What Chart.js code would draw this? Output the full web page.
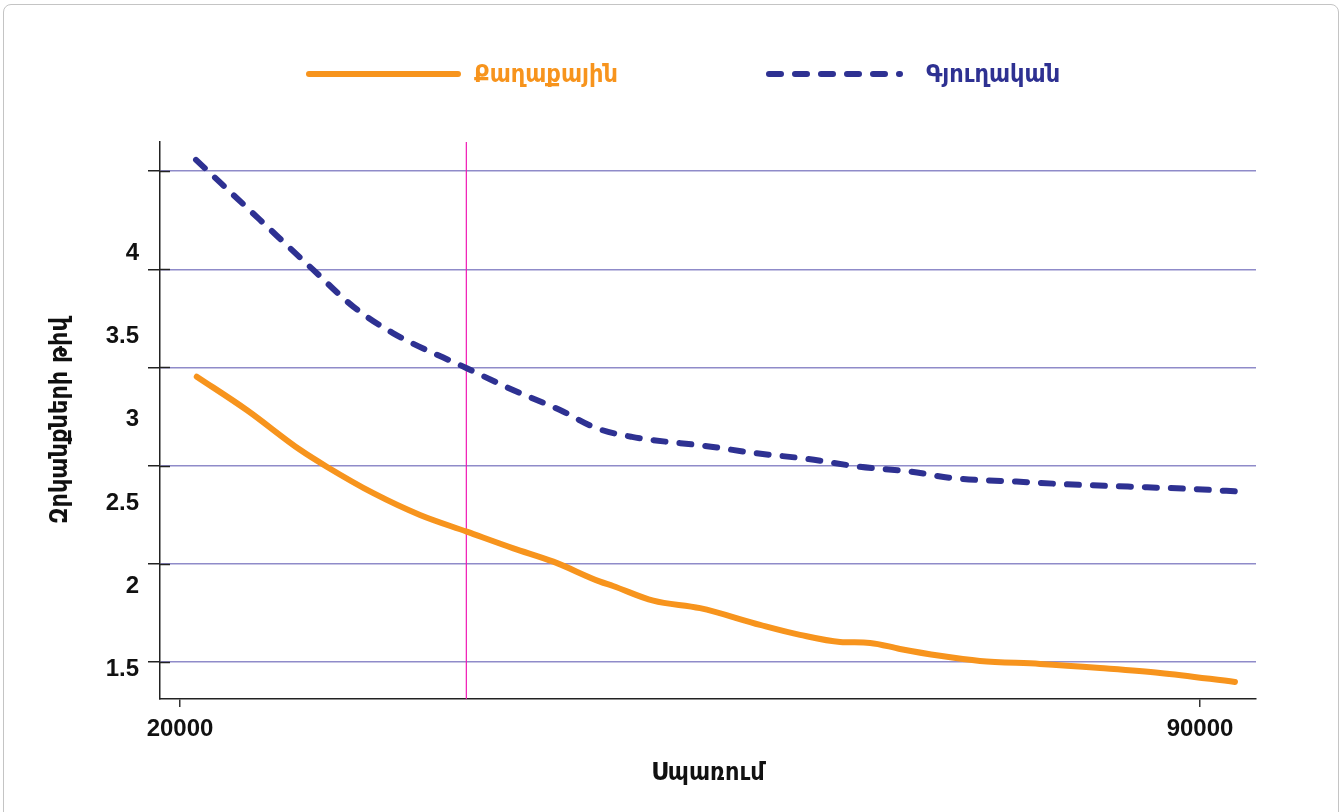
<!DOCTYPE html>
<html lang="hy">
<head>
<meta charset="UTF-8">
<title>Զրկանքների թիվ ըստ սպառման</title>
<style>
  html, body { margin: 0; padding: 0; background: #fff; }
  body { width: 1341px; height: 812px; overflow: hidden; position: relative; }
  .frame {
    position: absolute; left: 3px; top: 4px; right: 2px; bottom: -10px;
    border: 1.5px solid #c4c4c4; border-radius: 8px;
  }
  .wrap { position: absolute; left: 0; top: 0; width: 1341px; height: 812px; }
</style>
</head>
<body>
<div class="frame"></div>
<div class="wrap"><canvas id="chart" width="1341" height="812"></canvas></div>

<script src="https://cdn.jsdelivr.net/npm/chart.js@4"></script>
<script>
  // ==== Data ====
  const seriesNames = ['Քաղաքային', 'Գյուղական'];

  // Քաղաքային (urban)
  const urbanCons = [21150, 24580, 28240, 30070, 33270, 36470, 39680, 42880, 45620, 48830, 49720, 52480,
                     55690, 59810, 62550, 65300, 67360, 69410, 72160, 74900, 79020, 83140, 87260, 92400];
  const urbanDep = [2.953, 2.783, 2.580, 2.494, 2.359, 2.248, 2.163, 2.078, 2.010, 1.908, 1.886, 1.811,
                    1.773, 1.688, 1.637, 1.601, 1.596, 1.565, 1.530, 1.504, 1.489, 1.468, 1.443, 1.397];

  // Գյուղական (rural)
  const ruralCons = [21100, 25490, 29150, 31890, 34640, 39680, 42850, 46080, 48600, 51020, 56440,
                     59390, 63030, 66600, 70170, 72880, 77410, 80390, 86370, 89320, 92750];
  const ruralDep = [4.058, 3.752, 3.497, 3.310, 3.174, 2.996, 2.885, 2.783, 2.690, 2.646, 2.596,
                    2.564, 2.534, 2.494, 2.469, 2.437, 2.418, 2.406, 2.389, 2.381, 2.367];

  // vertical reference line
  const refCons = 39650;

  // axes
  const xTicks = [20000, 90000];
  const gridTicks = [1.5, 2, 2.5, 3, 3.5, 4];
  const yLabelTicks = [1.5, 2, 2.5, 3, 3.5, 4];
  const xRange = [18627, 93843];
  const yRange = [1.310, 4.149];
  const yLabelRange = [1.3215, 4.669];

  const ORANGE = '#f7941d';
  const NAVY = '#2e3192';
  const txtFont = "'Liberation Sans', 'DejaVu Sans Condensed', sans-serif";
  const armFont = "'DejaVu Sans Condensed', 'DejaVu Sans', sans-serif";

  const pts = (xs, ys) => xs.map((x, i) => ({ x: x, y: ys[i] }));

  // ==== legend drawn as line + coloured text ====
  const lineLegend = {
    id: 'lineLegend',
    afterDraw(chart, args, opts) {
      const ctx = chart.ctx;
      ctx.save();
      chart.data.datasets.forEach((ds, i) => {
        const it = opts.items[i];
        if (!it) return;
        ctx.strokeStyle = ds.borderColor;
        ctx.lineWidth = ds.borderWidth;
        ctx.lineCap = 'round';
        ctx.setLineDash(ds.borderDash || []);
        ctx.beginPath();
        ctx.moveTo(it.x0, opts.y);
        ctx.lineTo(it.x1, opts.y);
        ctx.stroke();
        ctx.setLineDash([]);
        ctx.fillStyle = ds.borderColor;
        ctx.font = 'bold 25px ' + armFont;
        ctx.textBaseline = 'middle';
        ctx.textAlign = 'left';
        ctx.fillText(ds.label, it.tx, opts.y + 1);
      });
      ctx.restore();
    }
  };

  // small black tick crosses on the y axis (ticks run into the plot a little)
  const tickCross = {
    id: 'tickCross',
    afterDraw(chart) {
      const ctx = chart.ctx, y = chart.scales.y, a = chart.chartArea;
      ctx.save();
      ctx.strokeStyle = '#222';
      ctx.lineWidth = 1.5;
      y.ticks.forEach(t => {
        const py = Math.round(y.getPixelForValue(t.value)) + 0.5;
        ctx.beginPath();
        ctx.moveTo(a.left, py);
        ctx.lineTo(a.left + 10, py);
        ctx.stroke();
      });
      ctx.restore();
    }
  };

  new Chart(document.getElementById('chart'), {
    type: 'line',
    data: {
      datasets: [{
        label: seriesNames[0],
        data: pts(urbanCons, urbanDep),
        borderColor: ORANGE,
        backgroundColor: ORANGE,
        borderWidth: 6,
        borderCapStyle: 'round',
        borderJoinStyle: 'round',
        cubicInterpolationMode: 'monotone',
        pointRadius: 0,
        fill: false
      }, {
        label: seriesNames[1],
        data: pts(ruralCons, ruralDep),
        borderColor: NAVY,
        backgroundColor: NAVY,
        borderWidth: 6,
        borderDash: [12, 14],
        borderCapStyle: 'round',
        borderJoinStyle: 'round',
        cubicInterpolationMode: 'monotone',
        pointRadius: 0,
        fill: false
      }, {
        label: 'ref',
        data: [{ x: refCons, y: yRange[0] }, { x: refCons, y: yRange[1] }],
        borderColor: '#f018b4',
        borderWidth: 1.2,
        pointRadius: 0,
        fill: false
      }]
    },
    options: {
      responsive: false,
      animation: false,
      layout: { padding: { top: 142, left: 0, right: 85, bottom: 0 } },
      plugins: {
        legend: { display: false },
        tooltip: { enabled: false },
        lineLegend: {
          y: 74,
          items: [{ x0: 309, x1: 458, tx: 474 }, { x0: 769, x1: 900, tx: 926 }]
        }
      },
      scales: {
        x: {
          type: 'linear',
          min: xRange[0],
          max: xRange[1],
          afterBuildTicks: s => { s.ticks = xTicks.map(v => ({ value: v })); },
          afterFit: s => { s.height = 113; },
          grid: { drawOnChartArea: false, tickLength: 8, color: '#333', lineWidth: 1.5 },
          border: { display: true, color: '#222', width: 1.5 },
          ticks: {
            color: '#111',
            padding: 8,
            maxRotation: 0,
            font: { family: txtFont, size: 24, weight: 'bold', lineHeight: 1.2 },
            callback: v => String(v)
          },
          title: {
            display: true,
            text: 'Սպառում',
            color: '#111',
            font: { family: armFont, size: 25, weight: 'bold', lineHeight: 1.2 },
            padding: { top: 0, bottom: 24 }
          }
        },
        y: {
          type: 'linear',
          position: 'left',
          weight: 0,
          min: yRange[0],
          max: yRange[1],
          afterBuildTicks: s => { s.ticks = gridTicks.map(v => ({ value: v })); },
          afterFit: s => { s.width = 12; },
          grid: { color: '#8f8bc9', lineWidth: 1.5, tickLength: 12, tickColor: '#222' },
          border: { display: true, color: '#222', width: 1.5 },
          ticks: { display: false }
        },
        yl: {
          type: 'linear',
          position: 'left',
          weight: 1,
          min: yLabelRange[0],
          max: yLabelRange[1],
          afterBuildTicks: s => { s.ticks = yLabelTicks.map(v => ({ value: v })); },
          afterFit: s => { s.width = 148; },
          grid: { display: false, drawTicks: false },
          border: { display: false },
          ticks: {
            color: '#111',
            padding: 9,
            font: { family: txtFont, size: 24, weight: 'bold' },
            callback: v => String(v)
          },
          title: {
            display: true,
            text: 'Զրկանքների թիվ',
            color: '#111',
            font: { family: armFont, size: 25, weight: 'bold', lineHeight: 1.2 },
            padding: { top: 45, bottom: 0 }
          }
        }
      }
    },
    plugins: [lineLegend, tickCross]
  });
</script>
</body>
</html>
